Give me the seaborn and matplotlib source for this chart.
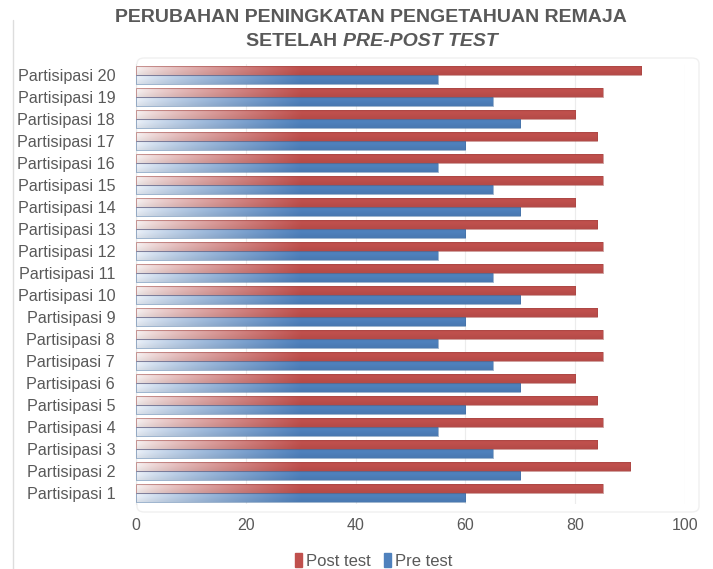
import numpy as np
import pandas as pd
import matplotlib
matplotlib.use("Agg")
import matplotlib.pyplot as plt
import seaborn as sns
from matplotlib.patches import FancyBboxPatch
from matplotlib.lines import Line2D
from matplotlib.colors import to_rgb

participants = [f"Partisipasi {i}" for i in range(1, 21)]
post_test = [85, 90, 84, 85, 84, 80, 85, 85, 84, 80, 85, 85, 84, 80, 85, 85, 84, 80, 85, 92]
pre_test = [60, 70, 65, 55, 60, 70, 65, 55, 60, 70, 65, 55, 60, 70, 65, 55, 60, 70, 65, 55]
series_names = ["Post test", "Pre test"]
x_ticks = [0, 20, 40, 60, 80, 100]

RED = "#C0504D"
BLUE = "#4F81BD"
GRAY = "#595959"

df = pd.DataFrame({
    "Peserta": participants * 2,
    "Nilai": post_test + pre_test,
    "Tes": [series_names[0]] * 20 + [series_names[1]] * 20,
})
order = participants[::-1]

sns.set_theme(style="white")
plt.rcParams["font.family"] = ["Liberation Sans", "DejaVu Sans"]

fig = plt.figure(figsize=(7.13, 5.69), dpi=100)
W, H = 713, 569
ax = fig.add_axes([136 / W, 1 - 504 / H, (685 - 136) / W, (504 - 64) / H])

sns.barplot(data=df, y="Peserta", x="Nilai", hue="Tes", order=order,
            hue_order=series_names, palette=[RED, BLUE], orient="h",
            width=0.8, ax=ax, legend=False, saturation=1)

ax.set_xlim(0, 100)
ax.set_ylim(19.5, -0.5)

# gradient fill for each bar (pale at left, full colour at right)
for patch in list(ax.patches):
    bb = patch.get_bbox()
    x0, x1 = bb.x0, bb.x1
    y0, y1 = bb.y0, bb.y1
    if x1 - x0 <= 0:
        continue
    col = np.array(to_rgb(patch.get_facecolor()))
    n = 256
    xs = np.linspace(x0, x1, n)
    t = np.clip(xs / 30.0, 0, 1) ** 0.8
    white = np.array([0.97, 0.95, 0.95]) if col[0] > col[2] else np.array([0.93, 0.95, 0.98])
    rows = []
    for k in range(8):
        shade = 1.0 - 0.06 * abs(k - 2) / 5
        row = (white[None, :] * (1 - t[:, None]) + col[None, :] * t[:, None]) * shade
        rows.append(row)
    img = np.clip(np.stack(rows, axis=0), 0, 1)
    im = ax.imshow(img, extent=[x0, x1, y1, y0], aspect="auto",
                   interpolation="bilinear", zorder=2)
    im.set_clip_path(patch)
    patch.set_facecolor("none")
    patch.set_edgecolor((col * 0.85).tolist() + [0.6])
    patch.set_linewidth(0.6)
    patch.set_zorder(3)

ax.set_ylim(19.5, -0.5)
ax.set_xlim(0, 100)
ax.set_xticks(x_ticks)
ax.set_xticklabels([str(v) for v in x_ticks], fontsize=11.5, color=GRAY)
ax.tick_params(axis="y", labelsize=11.6, labelcolor=GRAY, length=0, pad=15)
ax.tick_params(axis="x", length=0, pad=10)
ax.set_xlabel("")
ax.set_ylabel("")
ax.grid(axis="x", color="#ECECEC", linewidth=0.8, zorder=0)
ax.set_axisbelow(True)
for s in ["top", "right", "bottom"]:
    ax.spines[s].set_visible(False)
ax.spines["left"].set_color("#E6E6E6")
ax.spines["left"].set_linewidth(0.8)

# faint chart frame and plot-area border
fig.add_artist(Line2D([13 / W, 13 / W], [0, 1 - 20 / H], transform=fig.transFigure,
                      color="#DDDDDD", linewidth=1))
fig.add_artist(FancyBboxPatch((137 / W, 1 - 512 / H), (699 - 137) / W, (512 - 58) / H,
                              boxstyle="round,pad=0,rounding_size=0.01",
                              transform=fig.transFigure, facecolor="none",
                              edgecolor="#F0F0F0", linewidth=1, zorder=0))

# title
fig.text(371 / W, 1 - 17 / H, "PERUBAHAN PENINGKATAN PENGETAHUAN REMAJA",
         ha="center", va="center", fontsize=14, fontweight="bold", color=GRAY)
fig.canvas.draw()
r = fig.canvas.get_renderer()
t1 = fig.text(0, 1 - 42 / H, "SETELAH ", ha="left", va="center", fontsize=14,
              fontweight="bold", color=GRAY)
t2 = fig.text(0, 1 - 42 / H, "PRE-POST TEST", ha="left", va="center", fontsize=14,
              fontweight="bold", fontstyle="italic", color=GRAY)
w1 = t1.get_window_extent(r).width
w2 = t2.get_window_extent(r).width
start = 372 - (w1 + w2) / 2
t1.set_x(start / W)
t2.set_x((start + w1) / W)

handles = [plt.Rectangle((0, 0), 1, 1, color=RED), plt.Rectangle((0, 0), 1, 1, color=BLUE)]
fig.legend(handles, series_names, loc="center", bbox_to_anchor=(374 / W, 1 - 561 / H),
           ncol=2, frameon=False, fontsize=12, handlelength=0.4, handleheight=0.9,
           handletextpad=0.25, columnspacing=0.8, labelcolor=GRAY)

fig.savefig("out.png", dpi=100)
